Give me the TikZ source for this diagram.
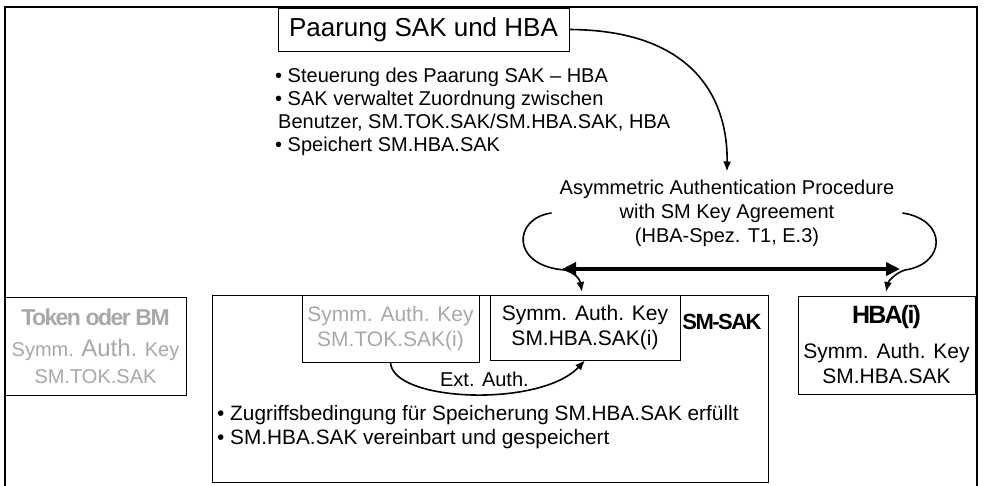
\documentclass[tikz,border=0pt]{standalone}
\usepackage{fontspec}
\setmainfont{Liberation Sans}
\newfontfamily\tightbf[LetterSpace=-7]{Liberation Sans}
\usetikzlibrary{arrows.meta}
\definecolor{keygray}{gray}{0.66}
\tikzset{
    box/.style={draw=black, line width=0.8pt, inner sep=0pt, align=center},
    txt/.style={font=\fontsize{21}{25}\selectfont},
    conn/.style={line width=1.6pt, -{Latex[length=10pt,width=8pt]}},
    bigarrow/.style={line width=4pt, {Triangle[length=14pt,width=13pt]}-{Triangle[length=14pt,width=13pt]}}
}
\begin{document}
\begin{tikzpicture}[x=1pt, y=-1pt]
        \useasboundingbox (0,0) rectangle (984,485);
        \draw[line width=2pt] (5,487) -- (5,7) -- (977,7) -- (977,487);

        % top: pairing
        \node[box, font=\fontsize{26}{30}\selectfont, minimum width=291, minimum height=43] (title) at (423.5,29.5) {Paarung SAK und HBA};
        \node[anchor=north west, align=left, inner sep=0pt, font=\fontsize{20}{23}\selectfont] (notes) at (275,68) {%
            • Steuerung des Paarung SAK – HBA\\
            • SAK verwaltet Zuordnung zwischen\\
            \hspace*{3pt}Benutzer, SM.TOK.SAK/SM.HBA.SAK, HBA\\
            • Speichert SM.HBA.SAK};
        \node[align=center, inner sep=8pt, font=\fontsize{20}{24}\selectfont] (proc) at (727,213) {Asymmetric Authentication Procedure\\with SM Key Agreement\\(HBA-Spez. T1, E.3)};

        % cards
        \node[box, text=keygray, font=\fontsize{20}{27}\selectfont, minimum width=181, minimum height=98] (token) at (95.5,346) {%
            {\tightbf\bfseries\fontsize{23}{26}\selectfont Token oder BM}\\[4pt]
            Symm. {\fontsize{24}{26}\selectfont Auth.} Key\\
            SM.TOK.SAK};
        \node[box, minimum width=556, minimum height=187] (sak) at (490,388.5) {};
        \node[box, txt, text=keygray, minimum width=177, minimum height=67] (tokkey) at (390.5,328.5) {Symm. Auth. Key\\SM.TOK.SAK(i)};
        \node[box, txt, minimum width=190, minimum height=65] (hbakey) at (585,327.5) {Symm. Auth. Key\\SM.HBA.SAK(i)};
        \node[font=\tightbf\bfseries\fontsize{22}{26}\selectfont] (saklabel) at (722,322) {SM-SAK};
        \node[box, font=\fontsize{21}{25}\selectfont, minimum width=177, minimum height=98] (hba) at (886.5,345) {%
            {\tightbf\bfseries\fontsize{25}{28}\selectfont HBA(i)}\\[10pt]
            Symm. Auth. Key\\
            SM.HBA.SAK};
        \node[anchor=west, align=left, inner sep=0pt, font=\fontsize{20.8}{24}\selectfont] (result) at (217,427) {%
            • Zugriffsbedingung für Speicherung SM.HBA.SAK erfüllt\\
            • SM.HBA.SAK vereinbart und gespeichert};

        % connectors
        \draw[conn] (title.east) .. controls (690,30) and (728,95) .. (proc.north);
        \coordinate (akl) at (562,269);
        \coordinate (akr) at (900,269);
        \draw[bigarrow] (akl) -- (akr);
        \coordinate (hbakeyin) at (582,292);
        \coordinate (hbain) at (886,292);
        \draw[conn] (proc.west) .. controls (513,218) and (510,266) .. (565,270) .. controls (575,272) and (580,280) .. (hbakeyin);
        \draw[conn] (proc.east) .. controls (948,220) and (946,264) .. (905,270) .. controls (895,273) and (888,282) .. (hbain);
        \draw[conn] (tokkey.south) .. controls (392,402) and (540,408) .. node[pos=0.55, above=3pt, font=\fontsize{20}{24}\selectfont] (extlabel) {Ext. Auth.} (hbakey.south);
    \end{tikzpicture}
\end{document}
